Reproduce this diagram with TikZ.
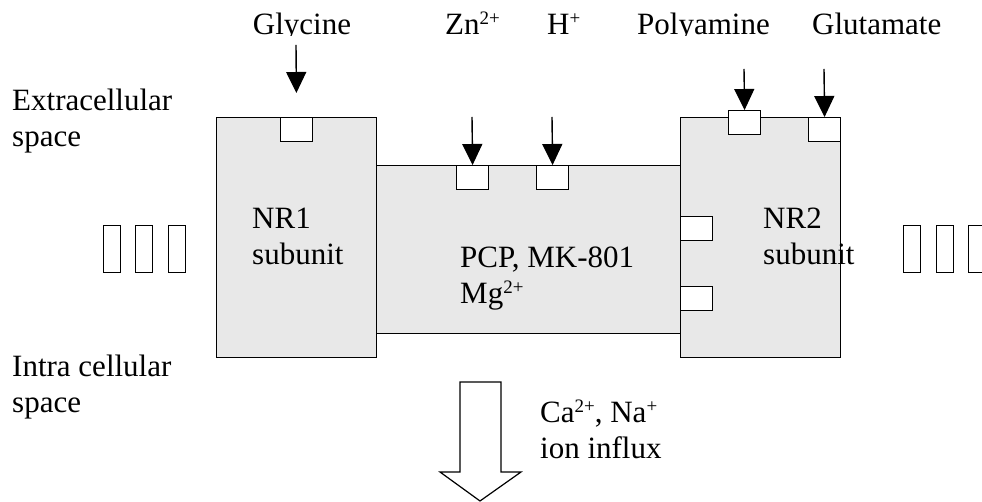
\documentclass[tikz,border=0pt]{standalone}
\usepackage{fontspec}
\setmainfont{Liberation Serif}
\usetikzlibrary{arrows.meta, positioning}
\newcommand{\ionsup}[1]{\raisebox{10pt}{\fontsize{19}{19}\selectfont #1}}

\begin{document}
\begin{tikzpicture}[x=1pt, y=-1pt,
    every node/.style={font=\fontsize{31}{36}\selectfont, inner sep=0pt},
    subunitbox/.style={rectangle, draw=black, line width=1.2pt, fill=gray!18, minimum width=160pt, minimum height=240pt, anchor=north west},
    channelbox/.style={rectangle, draw=black, line width=1.2pt, fill=gray!18, minimum width=304pt, minimum height=168pt, anchor=north west},
    sitebox/.style={rectangle, draw=black, line width=1.2pt, fill=white, minimum width=32pt, minimum height=24pt, anchor=north west},
    label/.style={anchor=base west, align=left},
    arrow/.style={-{Triangle[width=20pt, length=21pt]}, line width=1.4pt},
    dotbar/.style={draw=black, line width=1pt}
]
\useasboundingbox (0,0) rectangle (982,502);

% Receptor: channel between the two subunits
\node[channelbox] (channel) at (376,165) {};
\node[subunitbox] (nrone) at (216,117) {};
\node[subunitbox] (nrtwo) at (680,117) {};

% Binding sites
\node[sitebox] (glysite) at (280,117) {};
\node[sitebox] (znsite) at (456,165) {};
\node[sitebox] (hsite) at (536,165) {};
\node[sitebox] (polysite) at (728,110) {};
\node[sitebox] (glusite) at (808,117) {};
\node[sitebox] (blocksiteA) at (680,216) {};
\node[sitebox] (blocksiteB) at (680,286) {};

% Ligand labels (cut off at the bottom, as printed)
\begin{scope}
    \clip (0,0) rectangle (982,36);
    \node[anchor=base] (glylabel) at (302,34.5) {Glycine};
    \node[label] (znlabel) at (445,34.5) {Zn\ionsup{2+}};
    \node[label] (hlabel) at (547,34.5) {H\ionsup{+}};
    \node[label] (polylabel) at (637,34.5) {Polyamine};
    \node[label] (glulabel) at (812,34.5) {Glutamate};
\end{scope}

% Ligand arrows
\coordinate (glytail) at (296,45);
\coordinate (zntail) at (472,117);
\coordinate (htail) at (552,117);
\coordinate (polytail) at (744,69);
\coordinate (glutail) at (824,69);
\draw[arrow, shorten >=24pt] (glytail) -- (glysite.north);
\draw[arrow] (zntail) -- (znsite.north);
\draw[arrow] (htail) -- (hsite.north);
\draw[arrow] (polytail) -- (polysite.north);
\draw[arrow] (glutail) -- (glusite.north);

% Texts (placed at the baseline of their last line)
\node[label] (extra) at (12,147) {Extracellular\\space};
\node[label] (intra) at (12,412) {Intra cellular\\space};
\node[label] (nronetext) at (252,265) {NR1\\subunit};
\node[label] (nrtwotext) at (763,265) {NR2\\subunit};
\node[label] (blocktext) at (460,304) {PCP, MK-801\\Mg\ionsup{2+}};
\node[label] (influxtext) at (540,458) {Ca\ionsup{2+}, Na\ionsup{+}\\ion influx};

% Ion influx arrow
\draw[line width=1.2pt] (460,382) -- (501,382) -- (501,472) -- (521,472) -- (480,501) -- (440,472) -- (460,472) -- cycle;

% Further subunits
\foreach \x in {103,135.5,168} {
    \draw[dotbar] (\x,226) rectangle ++(17,47);
}
\foreach \x in {903,936,968} {
    \draw[dotbar] (\x,226) rectangle ++(17,47);
}
\end{tikzpicture}
\end{document}
